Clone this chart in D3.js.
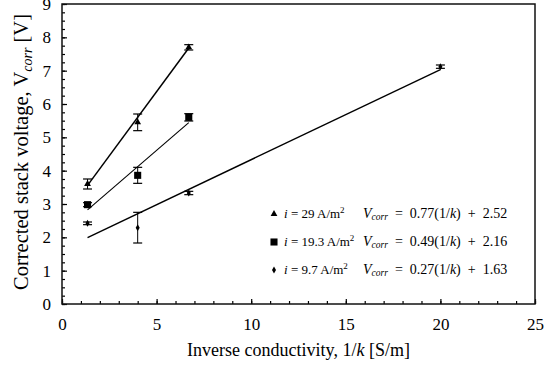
<!DOCTYPE html>
<html>
<head>
<meta charset="utf-8">
<script src="https://cdn.jsdelivr.net/npm/d3@7"></script>
<style>
  body { margin: 0; background: #fff; }
  text { font-family: "Liberation Serif", "Times New Roman", serif; fill: #000; }
</style>
</head>
<body>
<div id="chart"></div>
<script>
// data
const xVals = [1.35, 4.0, 6.7, 20];
const v29 = [3.6, 5.45, 7.7];
const err29 = [0.15, 0.25, 0.08];
const v193 = [2.98, 3.86, 5.6];
const err193 = [0.06, 0.24, 0.11];
const v97 = [2.42, 2.29, 3.33, 7.12];
const err97 = [0.04, 0.46, 0.05, 0.05];
const fits = [
  { slope: 0.77, icpt: 2.52, from: 1.35, to: 6.7 },
  { slope: 0.49, icpt: 2.16, from: 1.35, to: 6.7 },
  { slope: 0.27, icpt: 1.63, from: 1.35, to: 20 }
];
const legendCurrents = ['29', '19.3', '9.7'];
const legendSlopes = ['0.77', '0.49', '0.27'];
const legendIcpts = ['2.52', '2.16', '1.63'];
const xTicks = [0, 5, 10, 15, 20, 25];
const yTicks = [0, 1, 2, 3, 4, 5, 6, 7, 8, 9];

const config = {
  width: 554,
  height: 371,
  margin: { top: 4, right: 19, bottom: 67, left: 62 }
};
const innerW = config.width - config.margin.left - config.margin.right;
const innerH = config.height - config.margin.top - config.margin.bottom;

const svg = d3.select('#chart').append('svg')
  .attr('width', config.width)
  .attr('height', config.height);
const g = svg.append('g')
  .attr('transform', `translate(${config.margin.left}, ${config.margin.top})`);

const x = d3.scaleLinear().domain([0, 25]).range([0, innerW]);
const y = d3.scaleLinear().domain([0, 9]).range([innerH, 0]);

// minor ticks (inside)
g.append('g')
  .attr('transform', `translate(0, ${innerH})`)
  .call(d3.axisBottom(x).tickValues(d3.range(0, 26, 1)).tickSize(-3).tickFormat(''))
  .call(a => a.select('.domain').remove());
g.append('g')
  .call(d3.axisLeft(y).tickValues(d3.range(0, 9.01, 0.25)).tickSize(-3).tickFormat(''))
  .call(a => a.select('.domain').remove());

// major ticks
const xAxis = g.append('g')
  .attr('transform', `translate(0, ${innerH})`)
  .call(d3.axisBottom(x).tickValues(xTicks).tickSize(-5).tickPadding(14));
const yAxis = g.append('g')
  .call(d3.axisLeft(y).tickValues(yTicks).tickSize(-5).tickPadding(11));
[xAxis, yAxis].forEach(a => {
  a.selectAll('.tick text').attr('font-size', 17).attr('font-family', '"Liberation Serif", serif');
  a.select('.domain').remove();
});
g.selectAll('.tick line').attr('stroke', '#000').attr('stroke-width', 1.2);

// frame
g.append('rect')
  .attr('x', 0).attr('y', 0)
  .attr('width', innerW).attr('height', innerH)
  .attr('fill', 'none')
  .attr('stroke', '#111')
  .attr('stroke-width', 1.5);

// fit lines
const lineWidths = [1.5, 1.1, 1.4];
fits.forEach((f, i) => {
  g.append('line')
    .attr('x1', x(f.from)).attr('y1', y(f.slope * f.from + f.icpt))
    .attr('x2', x(f.to)).attr('y2', y(f.slope * f.to + f.icpt))
    .attr('stroke', '#000')
    .attr('stroke-width', lineWidths[i]);
});

// series
const series = [
  { vals: v29, errs: err29, sym: d3.symbolTriangle, size: 20 },
  { vals: v193, errs: err193, sym: d3.symbolSquare, size: 50 },
  { vals: v97, errs: err97, sym: d3.symbolDiamond, size: 14 }
];

series.forEach(s => {
  const pts = s.vals.map((v, i) => ({ x: xVals[i], v: v, e: s.errs[i] }));
  const eg = g.append('g');
  pts.forEach(p => {
    eg.append('line')
      .attr('x1', x(p.x)).attr('x2', x(p.x))
      .attr('y1', y(p.v + p.e)).attr('y2', y(p.v - p.e))
      .attr('stroke', '#000').attr('stroke-width', 1);
    [p.v + p.e, p.v - p.e].forEach(c => {
      eg.append('line')
        .attr('x1', x(p.x) - 4.5).attr('x2', x(p.x) + 4.5)
        .attr('y1', y(c)).attr('y2', y(c))
        .attr('stroke', '#000').attr('stroke-width', 1.2);
    });
  });
  g.append('g').selectAll('path')
    .data(pts)
    .enter()
    .append('path')
    .attr('d', d3.symbol().type(s.sym).size(s.size))
    .attr('transform', d => `translate(${x(d.x)}, ${y(d.v)})`)
    .attr('fill', '#000');
});

// legend
const legendYs = [214, 242, 270];
const lg = svg.append('g');
series.forEach((s, i) => {
  const ly = legendYs[i];
  lg.append('path')
    .attr('d', d3.symbol().type(s.sym).size(s.size))
    .attr('transform', `translate(274, ${ly})`)
    .attr('fill', '#000');
  const t1 = lg.append('text')
    .attr('x', 284).attr('y', ly + 4)
    .attr('font-size', 13)
    .attr('xml:space', 'preserve');
  t1.append('tspan').attr('font-style', 'italic').text('i');
  t1.append('tspan').text(` = ${legendCurrents[i]} A/m`);
  t1.append('tspan').attr('font-size', 9).attr('dy', -5).text('2');

  const t2 = lg.append('text')
    .attr('x', 363).attr('y', ly + 4)
    .attr('font-size', 14)
    .attr('xml:space', 'preserve');
  t2.append('tspan').attr('font-style', 'italic').text('V');
  t2.append('tspan').attr('font-style', 'italic').attr('font-size', 9.5).attr('dy', 2).text('corr');
  t2.append('tspan').attr('dy', -2).text(`  =  ${legendSlopes[i]}(1/`);
  t2.append('tspan').attr('font-style', 'italic').text('k');
  t2.append('tspan').text(`)  +  ${legendIcpts[i]}`);
});

// axis labels
const xl = svg.append('text')
  .attr('x', config.margin.left + innerW / 2)
  .attr('y', 356)
  .attr('text-anchor', 'middle')
  .attr('font-size', 18);
xl.append('tspan').text('Inverse conductivity, 1/');
xl.append('tspan').attr('font-style', 'italic').text('k');
xl.append('tspan').text(' [S/m]');

const yl = svg.append('text')
  .attr('transform', `translate(28, ${152}) rotate(-90)`)
  .attr('text-anchor', 'middle')
  .attr('font-size', 20.5);
yl.append('tspan').text('Corrected stack voltage, V');
yl.append('tspan').attr('font-style', 'italic').attr('font-size', 14).attr('dy', 4).text('corr');
yl.append('tspan').attr('dy', -4).text(' [V]');
</script>
</body>
</html>
